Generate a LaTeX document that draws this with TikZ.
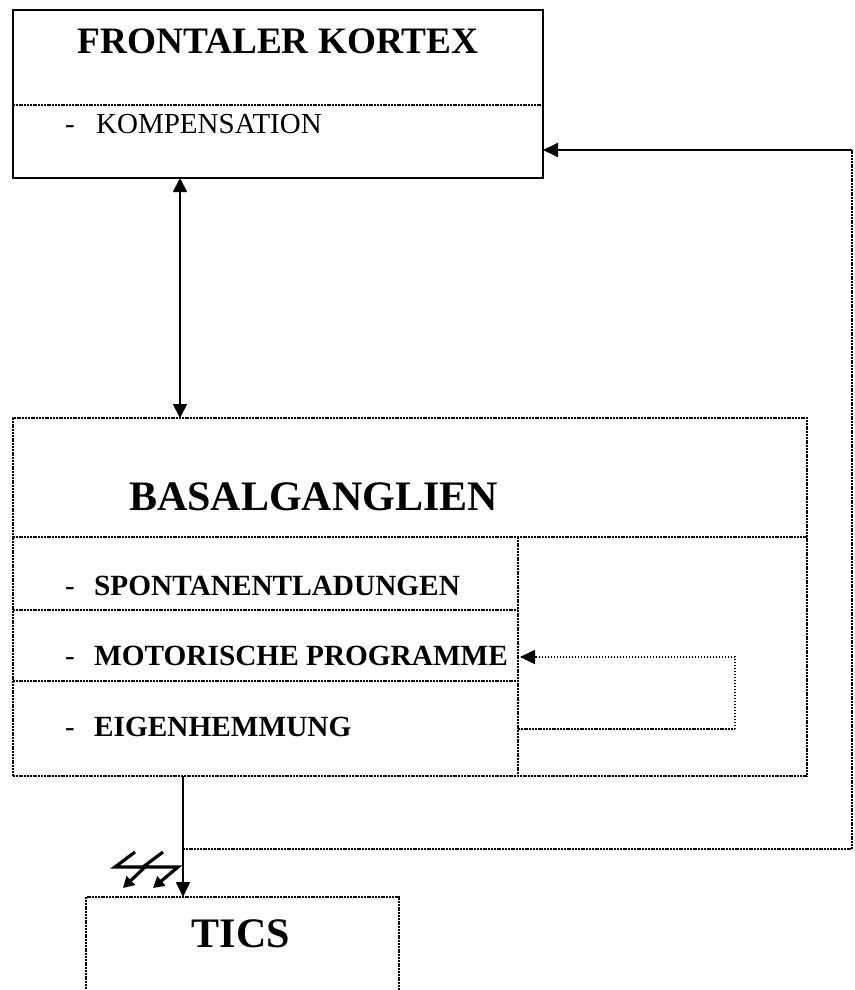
\documentclass[tikz,border=0pt]{standalone}
\usepackage{fontspec}
\setmainfont{Liberation Serif}
\usetikzlibrary{arrows.meta}
\begin{document}
\begin{tikzpicture}[x=1pt,y=-1pt,
  solidline/.style={line width=1.8pt},
  dotline/.style={line width=1.8pt, dash pattern=on 2pt off 0.8pt},
  sparsedot/.style={line width=1.6pt, dash pattern=on 1.4pt off 1.6pt},
  tip/.style={-{Triangle[length=15pt,width=14pt]}},
  boxsolid/.style={rectangle, draw, solidline, inner sep=0pt, outer sep=0pt},
  boxdot/.style={rectangle, draw, dotline, inner sep=0pt, outer sep=0pt},
  bigtext/.style={font=\fontsize{42}{48}\selectfont\bfseries, inner sep=0pt},
  titletext/.style={font=\fontsize{37.3}{44}\selectfont\bfseries, inner sep=0pt},
  itemtext/.style={font=\fontsize{29.3}{34}\selectfont\bfseries, inner sep=0pt, anchor=base west},
  plaintext/.style={font=\fontsize{29}{34}\selectfont, inner sep=0pt, anchor=base west},
  bolt/.style={line width=3.2pt, -{Triangle[length=11pt,width=12pt]}}
]
\useasboundingbox (0,0) rectangle (854,990);
\clip (0,0) rectangle (854,990);

% boxes
\node[boxsolid, minimum width=530pt, minimum height=168pt] (fk) at (278,94) {};
\node[boxdot, minimum width=794pt, minimum height=358pt] (bg) at (410,597) {};
\node[boxdot, minimum width=313pt, minimum height=113pt] (tics) at (242.5,953.5) {};

% separators
\coordinate (s0) at (0,105);
\draw[dotline] (fk.west |- s0) -- (fk.east |- s0);
\coordinate (h0) at (0,537);
\coordinate (dv) at (518,0);
\coordinate (h1) at (0,610);
\coordinate (h2) at (0,681);
\draw[dotline] (bg.west |- h0) -- (bg.east |- h0);
\draw[dotline] (dv |- h0) -- (dv |- bg.south);
\draw[dotline] (bg.west |- h1) -- (dv |- h1);
\draw[dotline] (bg.west |- h2) -- (dv |- h2);

% texts
\node[titletext, anchor=base] (fkt) at (278,53) {FRONTALER KORTEX};
\node[plaintext] (d0) at (65,133) {-};
\node[plaintext] (komp) at (96,133) {KOMPENSATION};
\node[bigtext, anchor=base west] (bgt) at (129,510) {BASALGANGLIEN};
\node[plaintext] (d1) at (65,595) {-};
\node[itemtext] (spon) at (94,595) {SPONTANENTLADUNGEN};
\node[plaintext] (d2) at (65,665) {-};
\node[itemtext] (motor) at (94,665) {MOTORISCHE PROGRAMME};
\node[plaintext] (d3) at (65,736) {-};
\node[itemtext] (eigen) at (94,736) {EIGENHEMMUNG};
\node[bigtext, anchor=base] (ticst) at (241,947) {TICS};

% arrows
\coordinate (a1) at (180,0);
\draw[solidline, {Triangle[length=14pt,width=14pt]}-{Triangle[length=14pt,width=14pt]}] (a1 |- fk.south) -- (a1 |- bg.north);
\coordinate (a2) at (183,0);
\draw[solidline, tip] (a2 |- bg.south) -- (a2 |- tics.north);

% feedback to frontal cortex
\coordinate (r1) at (852,849);
\coordinate (r2) at (852,150);
\draw[dotline] (a2 |- r1) -- (r1) -- (r2);
\draw[solidline, tip] (r2) -- (r2 -| fk.east);

% internal loop
\coordinate (l1) at (735,729);
\coordinate (l2) at (735,657);
\coordinate (l3) at (520,657);
\draw[dotline] (dv |- l1) -- (l1);
\draw[sparsedot] (l1) -- (l2) -- (l3);
\draw[solidline, tip] ([xshift=15pt]l3) -- (l3);

% lightning bolts
\draw[bolt] (135,852) -- (115,867) -- (145,867) -- (123,888);
\draw[bolt] (163,852) -- (143,867) -- (178,867) -- (153,888);
\end{tikzpicture}
\end{document}
